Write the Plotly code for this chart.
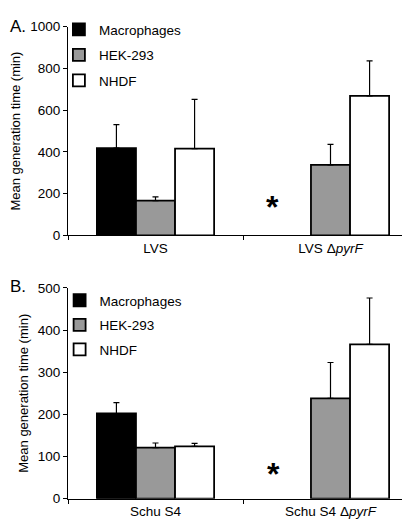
import plotly.graph_objects as go

series = ["Macrophages", "HEK-293", "NHDF"]
colors = ["#000000", "#999999", "#ffffff"]

cats_a = ["LVS", "LVS ΔpyrF"]
ticks_a = ["LVS", "LVS Δ<i>pyrF</i>"]
vals_a = {"Macrophages": [418, None], "HEK-293": [167, 338], "NHDF": [416, 668]}
tops_a = {"Macrophages": [531, None], "HEK-293": [185, 436], "NHDF": [652, 836]}

cats_b = ["Schu S4", "Schu S4 ΔpyrF"]
ticks_b = ["Schu S4", "Schu S4 Δ<i>pyrF</i>"]
vals_b = {"Macrophages": [202, None], "HEK-293": [121, 238], "NHDF": [124, 366]}
tops_b = {"Macrophages": [228, None], "HEK-293": [132, 323], "NHDF": [131, 476]}

FONT = "Liberation Sans, Arial, sans-serif"
fig = go.Figure()

def add(cats, vals, tops, xa, ya, leg):
    for s, c in zip(series, colors):
        v = vals[s]
        t = tops[s]
        err = [(tt - vv) if (vv is not None and tt is not None) else 0 for vv, tt in zip(v, t)]
        fig.add_trace(go.Bar(
            x=cats, y=v, name=s, xaxis=xa, yaxis=ya, legend=leg,
            legendgroup=leg + s,
            marker=dict(color=c, line=dict(color="black", width=1.8)),
            error_y=dict(type="data", array=err, arrayminus=[0] * len(err),
                         symmetric=False, color="black", thickness=1.2, width=3),
        ))

add(cats_a, vals_a, tops_a, "x", "y", "legend")
add(cats_b, vals_b, tops_b, "x2", "y2", "legend2")

H = 520.0
dom_a = [(H - 227) / H, (H - 12) / H]
dom_b = [(H - 498) / H, (H - 281) / H]

axis_common = dict(showline=True, linecolor="black", linewidth=1, ticks="outside",
                   ticklen=4, tickcolor="black", showgrid=False, zeroline=False,
                   tickfont=dict(size=13.5, color="black", family=FONT))

fig.update_layout(
    width=410, height=520,
    margin=dict(l=60, r=0, t=0, b=0),
    paper_bgcolor="white", plot_bgcolor="white",
    barmode="group", bargap=0.33, bargroupgap=0,
    font=dict(family=FONT, size=13.5, color="black"),
    xaxis=dict(domain=[0, 1], anchor="y", type="category", range=[-0.5, 1.5],
               tickson="boundaries", tickvals=cats_a, ticktext=ticks_a, **axis_common),
    yaxis=dict(domain=dom_a, anchor="x", range=[0, 1000], dtick=200,
               title=dict(text="Mean generation time (min)", font=dict(size=13), standoff=6),
               **axis_common),
    xaxis2=dict(domain=[0, 1], anchor="y2", type="category", range=[-0.5, 1.5],
                tickson="boundaries", tickvals=cats_b, ticktext=ticks_b, **axis_common),
    yaxis2=dict(domain=dom_b, anchor="x2", range=[0, 500], dtick=100,
                title=dict(text="Mean generation time (min)", font=dict(size=13), standoff=6),
                **axis_common),
    legend=dict(x=-0.026, y=(H + 1) / H, xanchor="left", yanchor="top",
                bgcolor="rgba(0,0,0,0)", font=dict(size=13.5), tracegroupgap=5),
    legend2=dict(x=-0.024, y=(H - 278) / H, xanchor="left", yanchor="top",
                 bgcolor="rgba(0,0,0,0)", font=dict(size=13.5), tracegroupgap=4),
    annotations=[
        dict(text="A.", x=0, y=1, xref="paper", yref="paper", xanchor="left", yanchor="top",
             showarrow=False, font=dict(size=17), xshift=-60, yshift=0),
        dict(text="B.", x=0, y=(H - 268) / H, xref="paper", yref="paper", xanchor="left",
             yanchor="top", showarrow=False, font=dict(size=17), xshift=-60),
        dict(text="<b>*</b>", x=cats_a[1], y=135, xref="x", yref="y", showarrow=False,
             xshift=-58, font=dict(size=32)),
        dict(text="<b>*</b>", x=cats_b[1], y=59, xref="x2", yref="y2", showarrow=False,
             xshift=-57, font=dict(size=32)),
    ],
)

fig.write_html("out.html")
